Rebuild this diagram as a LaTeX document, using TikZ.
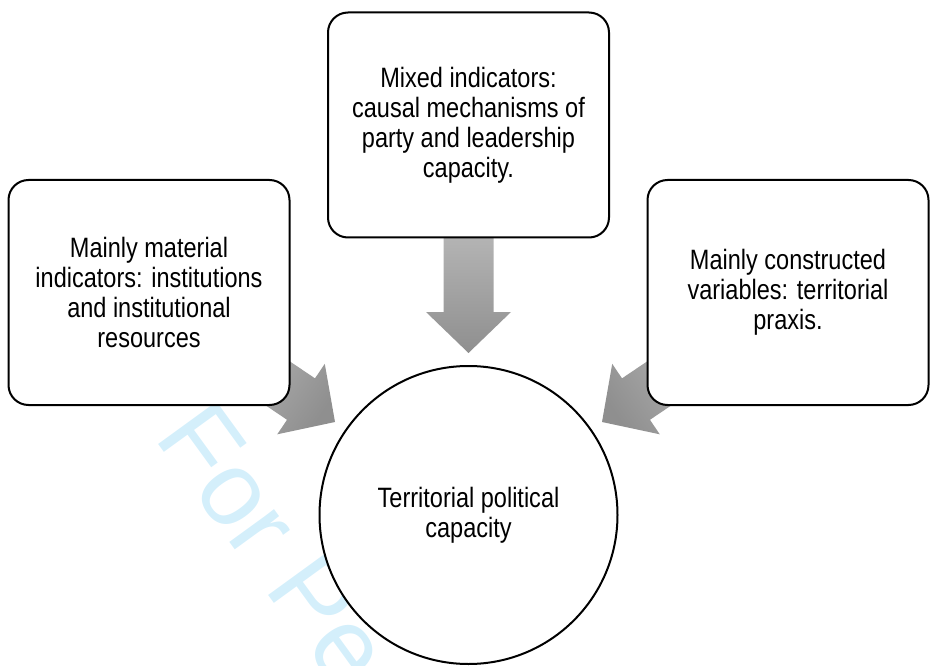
\documentclass[tikz,border=0pt]{standalone}
\usepackage{fontspec}
\setmainfont{Liberation Sans}[FakeStretch=0.84]
\newfontfamily\wmfont{Liberation Sans}
\usetikzlibrary{calc}
\definecolor{wmcyan}{RGB}{212,239,251}

\begin{document}
\begin{tikzpicture}[x=1pt,y=-1pt,every node/.style={outer sep=0pt,align=center,font=\fontsize{28}{30}\selectfont}]
\tikzstyle{box}=[draw,line width=2pt,rounded corners=20pt,fill=white,minimum width=281pt,minimum height=225pt,inner sep=0pt]
\tikzstyle{blockarrow}=[top color=black!28,bottom color=black!44,draw=none]
\useasboundingbox (0,0) rectangle (930,666);

\node (wm_node) at (152,435) [anchor=base west,rotate=-54,text=wmcyan,font=\wmfont\fontsize{105}{105}\selectfont] {For Pe};

\coordinate (tip_l) at (335,422);
\coordinate (tip_t) at (468.5,353);
\coordinate (tip_r) at (602,422);
\foreach \tip/\ang/\shang in {tip_l/-34/56,tip_t/-90/0,tip_r/-146/-56}
{
  \begin{scope}[shift={(\tip)},rotate=\ang]
    \shade[blockarrow,shading angle=\shang] (0,0) -- (-41,-42.5) -- (-41,-25) -- (-128,-25) -- (-128,25) -- (-41,25) -- (-41,42.5) -- cycle;
  \end{scope}
}

\node (material_node) at (149,292.5) [box] {Mainly material\\indicators: institutions\\and institutional\\resources};
\node (mixed_node) at (468.5,125) [box] {Mixed indicators:\\causal mechanisms of\\party and leadership\\capacity.};
\node (constructed_node) at (788,292.5) [box] {Mainly constructed\\variables: territorial\\praxis.};
\node (capacity_node) at (468.5,515) [circle,draw,line width=2pt,fill=white,minimum size=298pt,inner sep=0pt] {Territorial political\\capacity};

\end{tikzpicture}
\end{document}
